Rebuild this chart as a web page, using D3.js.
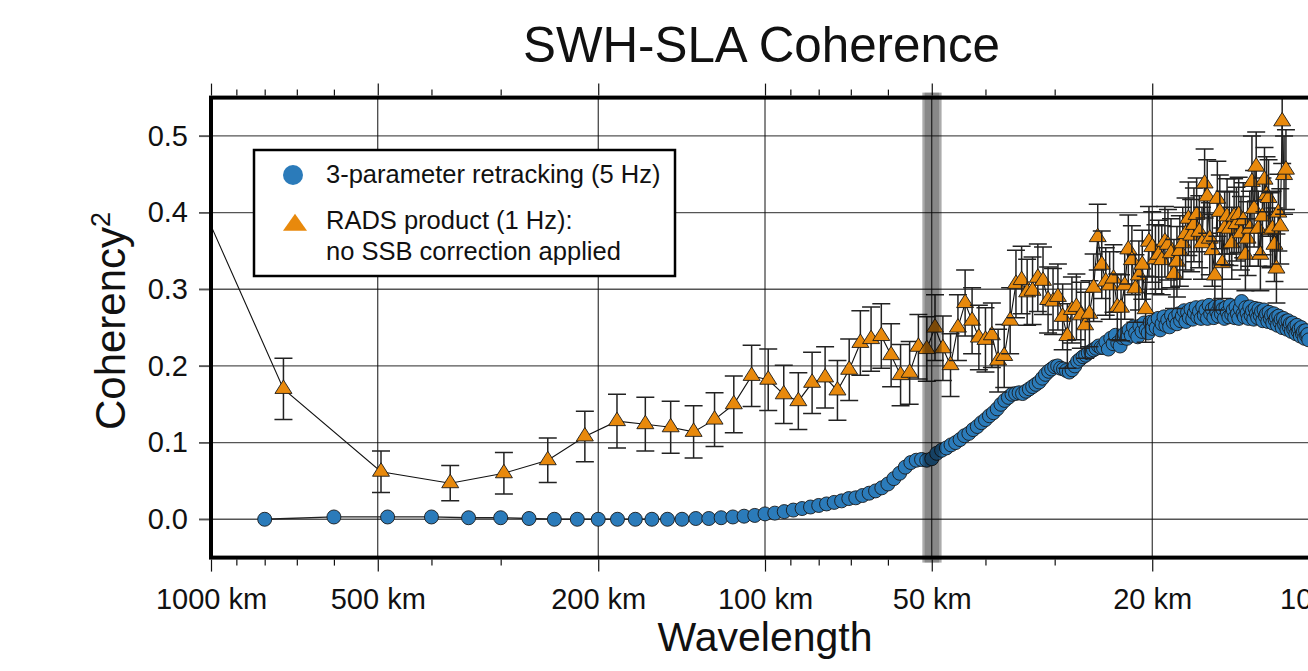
<!DOCTYPE html>
<html><head><meta charset="utf-8">
<script src="https://cdn.jsdelivr.net/npm/d3@7"></script>
<style>
body{margin:0;background:#fff;overflow:hidden}
svg{display:block}
text{font-family:"Liberation Sans",Arial,Helvetica,sans-serif;fill:#111}
</style>
</head><body>
<svg id="c" width="1308" height="671"></svg>
<script>
// ---------------- data ----------------
// 3-parameter retracking (5 Hz): spectral estimates at wavelength = BLUE_RECORD_KM / n, n = 3 ...
const BLUE_RECORD_KM = 2400;
const BLUE_FIRST_HARMONIC = 3;
const blueValues = [
  0.000,0.003,0.003,0.003,0.002,0.002,0.001,0.000,0.000,0.000,
  0.000,0.000,0.000,0.000,0.000,0.001,0.001,0.002,0.003,0.004,
  0.005,0.007,0.008,0.010,0.012,0.014,0.016,0.018,0.020,0.022,
  0.024,0.027,0.028,0.031,0.034,0.037,0.041,0.046,0.053,0.060,
  0.068,0.074,0.077,0.078,0.077,
  0.079,0.086,0.090,0.093,0.097,0.100,0.104,0.109,0.112,0.117,
  0.121,0.126,0.130,0.135,0.139,0.144,0.150,0.155,0.159,0.163,
  0.164,0.165,0.164,0.167,0.170,0.173,0.176,0.179,0.184,0.189,
  0.193,0.196,0.199,0.200,0.197,0.196,0.194,0.192,0.195,0.200,
  0.206,0.209,0.212,0.214,0.217,0.219,0.221,0.223,0.226,0.224,
  0.224,0.231,0.222,0.236,0.229,0.240,0.230,0.226,0.237,0.242,
  0.236,0.247,0.240,0.251,0.243,0.238,0.252,0.245,0.256,0.247,
  0.243,0.257,0.249,0.258,0.250,0.262,0.247,0.255,0.264,0.253,
  0.260,0.251,0.266,0.257,0.263,0.255,0.268,0.259,0.265,0.272,
  0.258,0.270,0.263,0.274,0.261,0.269,0.276,0.264,0.271,0.262,
  0.277,0.266,0.273,0.262,0.279,0.268,0.274,0.263,0.277,0.270,
  0.265,0.278,0.268,0.274,0.262,0.276,0.270,0.264,0.279,0.267,
  0.273,0.263,0.277,0.268,0.262,0.275,0.284,0.268,0.264,0.276,
  0.269,0.262,0.277,0.266,0.272,0.261,0.275,0.268,0.263,0.274,
  0.266,0.271,0.259,0.273,0.265,0.268,0.258,0.270,0.262,0.266,
  0.256,0.268,0.260,0.263,0.253,0.265,0.257,0.261,0.250,0.262,
  0.254,0.258,0.248,0.259,0.251,0.255,0.245,0.256,0.248,0.251,
  0.242,0.253,0.245,0.248,0.239,0.250,0.242,0.245,0.236,0.246,
  0.239,0.241,0.234
];

// RADS product (1 Hz): wavelength = ORANGE_RECORD_KM / n, n = 1 ...
const ORANGE_RECORD_KM = 1480;
const ORANGE_FIRST_HARMONIC = 1;
const orangeValues = [
  0.660,0.170,0.062,0.047,0.060,0.077,0.108,0.128,0.124,0.120,
  0.114,0.130,0.150,0.187,0.182,0.163,0.154,0.178,0.185,0.168,
  0.195,0.230,0.235,0.239,0.214,0.188,0.191,0.225,0.222,0.250,
  0.223,0.201,0.250,0.282,0.259,0.237,0.234,0.240,0.207,0.213,
  0.259,0.307,0.312,0.296,0.298,0.315,0.311,0.286,0.284,0.290,
  0.264,0.239,0.273,0.277,0.266,0.253,0.268,0.302,0.368,0.332,
  0.310,0.305,0.314,0.277,0.276,0.305,0.352,0.338,0.301,0.318,
  0.332,0.274,0.362,0.355,0.339,0.345,0.338,0.362,0.358,0.347,
  0.320,0.336,0.350,0.360,0.372,0.392,0.370,0.384,0.397,0.375,
  0.360,0.438,0.421,0.366,0.351,0.318,0.418,0.401,0.334,0.380,
  0.395,0.379,0.360,0.395,0.385,0.397,0.373,0.390,0.345,0.366,
  0.379,0.440,0.405,0.460,0.379,0.345,0.395,0.443,0.423,0.419,
  0.377,0.379,0.358,0.327,0.400,0.382,0.519,0.449,0.456
];
const orangeErrors = [
  0.050,0.040,0.027,0.023,0.027,0.029,0.033,0.035,0.035,0.034,
  0.034,0.035,0.037,0.040,0.040,0.038,0.037,0.040,0.040,0.039,
  0.040,0.042,0.042,0.042,0.041,0.040,0.041,0.042,0.042,0.043,
  0.042,0.041,0.043,0.043,0.043,0.042,0.042,0.042,0.041,0.041,
  0.043,0.044,0.044,0.043,0.044,0.044,0.044,0.043,0.043,0.043,
  0.043,0.042,0.043,0.043,0.043,0.043,0.043,0.044,0.043,0.044,
  0.044,0.044,0.044,0.043,0.043,0.044,0.045,0.045,0.044,0.045,
  0.045,0.043,0.046,0.046,0.045,0.045,0.045,0.046,0.046,0.045,
  0.045,0.046,0.046,0.047,0.047,0.048,0.047,0.048,0.048,0.047,
  0.047,0.045,0.048,0.047,0.047,0.045,0.049,0.048,0.046,0.048,
  0.049,0.048,0.047,0.049,0.048,0.049,0.048,0.049,0.047,0.048,
  0.049,0.060,0.050,0.045,0.049,0.047,0.050,0.042,0.050,0.050,
  0.049,0.049,0.048,0.045,0.050,0.049,0.055,0.051,0.052
];

const xMajorTicks = [1000, 500, 200, 100, 50, 20, 10];
const yTicks = [0, 0.1, 0.2, 0.3, 0.4, 0.5];
const bandOuterKm = [52, 48];
const bandInnerKm = [51.5, 48.5];
const titleText = "SWH-SLA Coherence";
const xLabel = "Wavelength";
const legendLabels = ["3-parameter retracking (5 Hz)", "RADS product (1 Hz):", "no SSB correction applied"];

// ---------------- build ----------------
const blue = blueValues.map((v, i) => ({ w: BLUE_RECORD_KM / (i + BLUE_FIRST_HARMONIC), v }));
const orange = orangeValues.map((v, i) => ({ w: ORANGE_RECORD_KM / (i + ORANGE_FIRST_HARMONIC), v, e: orangeErrors[i] }));

const svg = d3.select("#c");
const X0 = 211, X1 = 1319, Y0 = 97.6, Y1 = 557.6;
const x = d3.scaleLog().domain([1000, 10]).range([X0, X1]);
const y = d3.scaleLinear().domain([-0.05, 0.55]).range([Y1, Y0]);

const BLUE = "#2b7bba", ORANGE = "#e8890c";

// minor tick values (1..9 x 10^k)
const allTicks = [];
[10, 100].forEach(d => { for (let k = 1; k <= 9; k++) allTicks.push(k * d); });
allTicks.push(1000);
const minorTicks = allTicks.filter(t => !xMajorTicks.includes(t));

// grid
const grid = svg.append("g");
grid.selectAll("line.h").data(yTicks).join("line")
  .attr("x1", X0 - 12).attr("x2", X1).attr("y1", d => y(d)).attr("y2", d => y(d))
  .attr("stroke", "#555").attr("stroke-width", 1.3);
grid.selectAll("line.v").data(xMajorTicks).join("line")
  .attr("x1", d => x(d)).attr("x2", d => x(d)).attr("y1", Y0).attr("y2", Y1)
  .attr("stroke", "#111").attr("stroke-width", 1);

// axes
function styleAxis(g) {
  g.select(".domain").remove();
  g.selectAll(".tick line").attr("stroke", "#111").attr("stroke-width", 1.2);
}
svg.append("g").attr("transform", `translate(0,${Y1 + 2})`)
  .call(d3.axisBottom(x).tickValues(xMajorTicks).tickSize(12).tickPadding(17).tickFormat(d => d + " km"))
  .call(styleAxis)
  .call(g => g.selectAll("text").attr("font-size", 29).attr("font-family", "Liberation Sans, Arial, sans-serif").attr("fill", "#111"));
svg.append("g").attr("transform", `translate(0,${Y1 + 2})`)
  .call(d3.axisBottom(x).tickValues(minorTicks).tickSize(6).tickFormat(""))
  .call(styleAxis);
svg.append("g").attr("transform", `translate(0,${Y0 - 2})`)
  .call(d3.axisTop(x).tickValues(xMajorTicks).tickSize(12).tickFormat(""))
  .call(styleAxis);
svg.append("g").attr("transform", `translate(0,${Y0 - 2})`)
  .call(d3.axisTop(x).tickValues(minorTicks).tickSize(6).tickFormat(""))
  .call(styleAxis);
svg.append("g").attr("transform", `translate(${X0 - 2},0)`)
  .call(d3.axisLeft(y).tickValues(yTicks).tickSize(10).tickPadding(11).tickFormat(d3.format(".1f")))
  .call(g => { g.select(".domain").remove(); g.selectAll(".tick line").attr("stroke", "#555").attr("stroke-width", 1.3); })
  .call(g => g.selectAll("text").attr("font-size", 29).attr("font-family", "Liberation Sans, Arial, sans-serif").attr("fill", "#111"));

// clip
svg.append("defs").append("clipPath").attr("id", "plotclip")
  .append("rect").attr("x", X0).attr("y", Y0).attr("width", X1 - X0).attr("height", Y1 - Y0);
const plot = svg.append("g").attr("clip-path", "url(#plotclip)");

// blue series
const line = d3.line().x(d => x(d.w)).y(d => y(d.v));
plot.append("path").datum(blue).attr("d", line)
  .attr("fill", "none").attr("stroke", "#222").attr("stroke-width", 1.3);
plot.append("g").selectAll("circle").data(blue).join("circle")
  .attr("cx", d => x(d.w)).attr("cy", d => y(d.v)).attr("r", 7)
  .attr("fill", BLUE).attr("stroke", "#1a1a1a").attr("stroke-width", 0.9);

// orange series
plot.append("path").datum(orange).attr("d", line)
  .attr("fill", "none").attr("stroke", "#111").attr("stroke-width", 1.1);
const TW = 17, TH = 13.5;
const tri = (w, h) => `M0,${-h * 2 / 3}L${w / 2},${h / 3}L${-w / 2},${h / 3}Z`;
const og = plot.append("g").selectAll("g").data(orange).join("g")
  .attr("transform", d => `translate(${x(d.w)},0)`);
og.append("path")
  .attr("d", d => {
    const a = y(d.v + d.e), b = y(d.v - d.e), c = 9;
    return `M0,${a}V${b}M${-c},${a}H${c}M${-c},${b}H${c}`;
  })
  .attr("fill", "none").attr("stroke", "#222").attr("stroke-width", 1.5);
og.append("path")
  .attr("transform", d => `translate(0,${y(d.v)})`)
  .attr("d", tri(TW, TH))
  .attr("fill", ORANGE).attr("stroke", "#1a1a1a").attr("stroke-width", 0.9);

// frame
svg.append("rect").attr("x", X0).attr("y", Y0).attr("width", X1 - X0).attr("height", Y1 - Y0)
  .attr("fill", "none").attr("stroke", "#000").attr("stroke-width", 4);

// band at 50 km
svg.append("rect").attr("x", x(bandOuterKm[0])).attr("width", x(bandOuterKm[1]) - x(bandOuterKm[0]))
  .attr("y", Y0 - 5).attr("height", Y1 - Y0 + 10).attr("fill", "#000").attr("opacity", 0.33);
svg.append("rect").attr("x", x(bandInnerKm[0])).attr("width", x(bandInnerKm[1]) - x(bandInnerKm[0]))
  .attr("y", Y0 - 5).attr("height", Y1 - Y0 + 10).attr("fill", "#000").attr("opacity", 0.2);

// legend
const lg = svg.append("g");
lg.append("rect").attr("x", 254).attr("y", 150).attr("width", 421).attr("height", 126)
  .attr("fill", "#fff").attr("stroke", "#000").attr("stroke-width", 2.5);
lg.append("circle").attr("cx", 293).attr("cy", 175).attr("r", 10).attr("fill", BLUE);
lg.append("path").attr("transform", "translate(295,225)").attr("d", tri(24, 17)).attr("fill", ORANGE);
lg.selectAll("text").data(legendLabels).join("text")
  .attr("x", 326).attr("y", (d, i) => [183, 228.5, 260][i])
  .attr("font-size", 25.5).text(d => d);

// titles
svg.append("text").attr("x", 761.5).attr("y", 62).attr("text-anchor", "middle")
  .attr("font-size", 50).attr("textLength", 477).attr("lengthAdjust", "spacingAndGlyphs")
  .text(titleText);
svg.append("text").attr("x", 765).attr("y", 651).attr("text-anchor", "middle")
  .attr("font-size", 41).text(xLabel);
const yl = svg.append("text").attr("transform", "translate(125,321) rotate(-90)").attr("text-anchor", "middle")
  .attr("font-size", 42);
yl.append("tspan").text("Coherency");
yl.append("tspan").attr("font-size", 27).attr("dy", -15).text("2");
</script>
</body></html>
